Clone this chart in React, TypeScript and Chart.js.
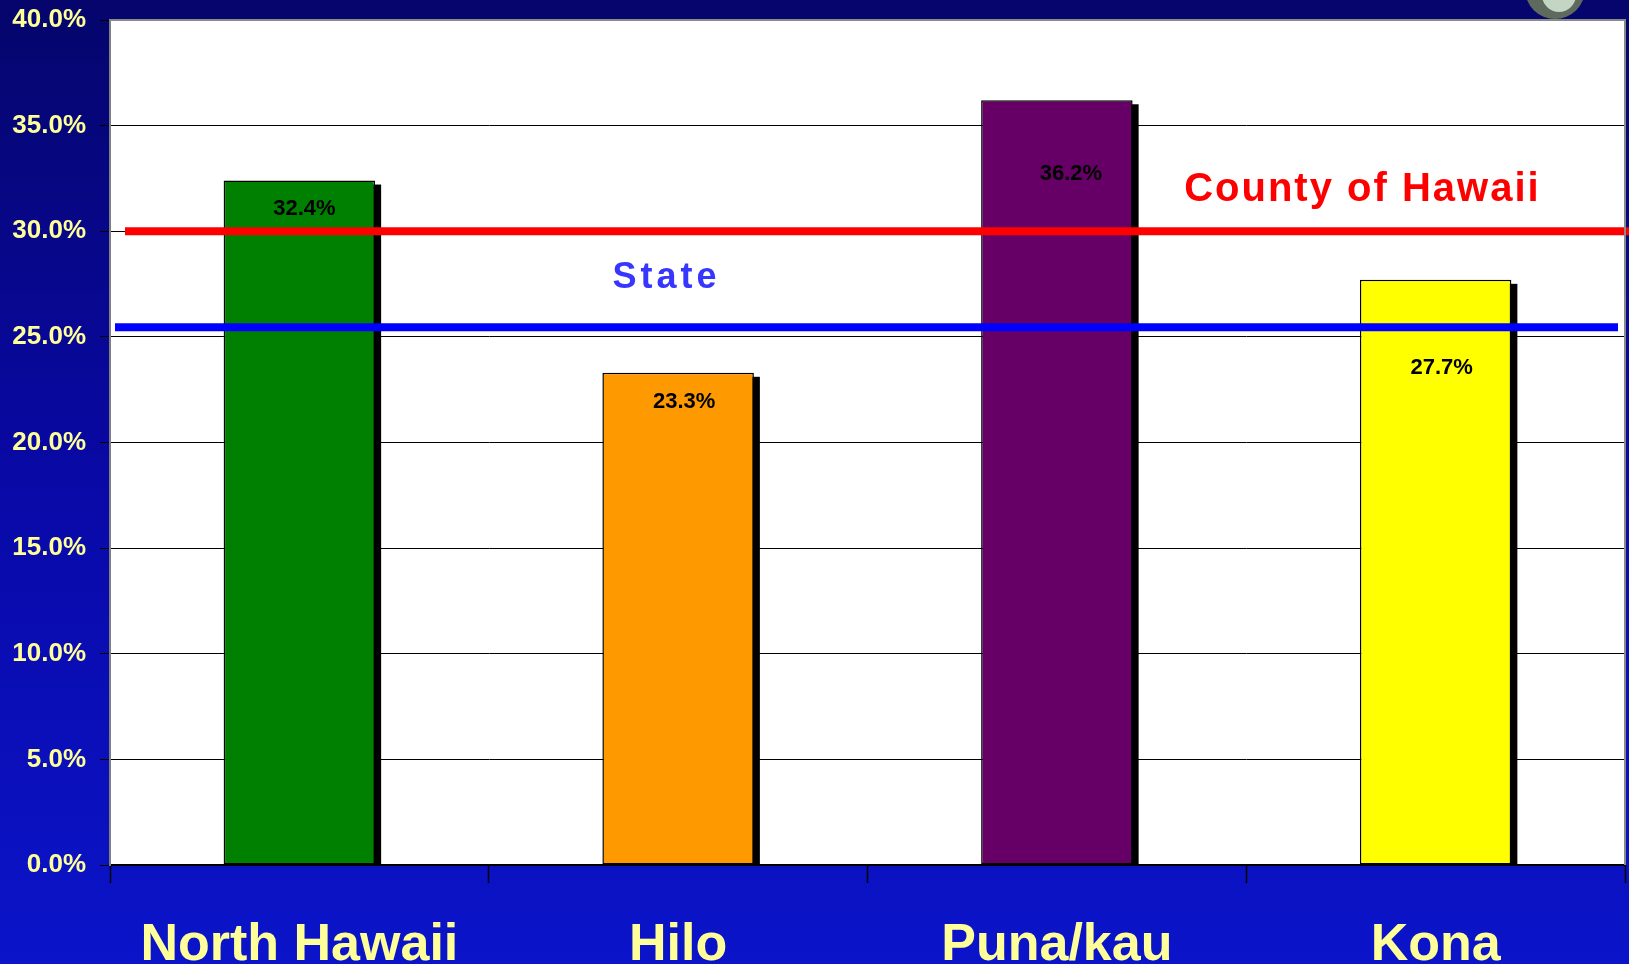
import { useEffect, useRef } from "react";
import { Chart, registerables } from "chart.js";

Chart.register(...registerables);

// ---- data ----
const categories = ["North Hawaii", "Hilo", "Puna/kau", "Kona"];
const values = [32.4, 23.3, 36.2, 27.7];
const valueLabels = ["32.4%", "23.3%", "36.2%", "27.7%"];
const countyValue = 30.0;
const stateValue = 25.45;
const countyLabel = "County of Hawaii";
const stateLabel = "State";
const yMin = 0;
const yMax = 40;
const yStep = 5;

// ---- styles ----
const barColors = ["#008000", "#ff9900", "#660066", "#ffff00"];
const labelDx = [5, 6, 14, 6];
const labelDy = [26, 27, 72, 86];
const FONT = "'Liberation Sans', Arial, Helvetica, sans-serif";
const YELLOW = "#ffff99";

const decorPlugin = {
  id: "decor",
  beforeDraw(chart: any) {
    const { ctx, width, height, chartArea } = chart;
    ctx.save();
    const g = ctx.createLinearGradient(0, 0, 0, height);
    g.addColorStop(0, "#05056c");
    g.addColorStop(0.5, "#0909a6");
    g.addColorStop(1, "#0b14c9");
    ctx.fillStyle = g;
    ctx.fillRect(0, 0, width, height);
    // button decoration top-right
    ctx.fillStyle = "#5e6a5e";
    ctx.beginPath();
    ctx.arc(1555, -11, 30, 0, Math.PI * 2);
    ctx.fill();
    ctx.fillStyle = "#c3d6c3";
    ctx.beginPath();
    ctx.arc(1559, -5, 17, 0, Math.PI * 2);
    ctx.fill();
    // plot area
    ctx.fillStyle = "#ffffff";
    ctx.fillRect(chartArea.left, chartArea.top, chartArea.right - chartArea.left, chartArea.bottom - chartArea.top);
    ctx.restore();
  },
  beforeDatasetsDraw(chart: any) {
    const { ctx } = chart;
    const meta = chart.getDatasetMeta(0);
    ctx.save();
    ctx.fillStyle = "#000000";
    meta.data.forEach((el: any) => {
      const p = el.getProps(["x", "y", "base", "width"], true);
      ctx.fillRect(p.x - p.width / 2 + 6, p.y + 4, p.width, p.base - p.y - 4);
    });
    ctx.restore();
  },
  afterDatasetsDraw(chart: any) {
    const { ctx, chartArea, width } = chart;
    const y = chart.scales.y;
    const meta = chart.getDatasetMeta(0);
    ctx.save();
    // value labels
    ctx.fillStyle = "#000000";
    ctx.font = `bold 22px ${FONT}`;
    ctx.textAlign = "center";
    ctx.textBaseline = "alphabetic";
    meta.data.forEach((el: any, i: number) => {
      const p = el.getProps(["x", "y"], true);
      ctx.fillText(valueLabels[i], p.x + labelDx[i], p.y + labelDy[i] + 8);
    });
    // reference lines
    ctx.lineWidth = 8;
    ctx.strokeStyle = "#ff0000";
    const yc = y.getPixelForValue(countyValue);
    ctx.beginPath();
    ctx.moveTo(chartArea.left + 15, yc);
    ctx.lineTo(width, yc);
    ctx.stroke();
    ctx.strokeStyle = "#0000ff";
    const ys = y.getPixelForValue(stateValue);
    ctx.beginPath();
    ctx.moveTo(chartArea.left + 5, ys);
    ctx.lineTo(chartArea.right - 7, ys);
    ctx.stroke();
    // line labels
    const w = chartArea.right - chartArea.left;
    ctx.textAlign = "center";
    ctx.fillStyle = "#ff0000";
    ctx.font = `bold 40px ${FONT}`;
    (ctx as any).letterSpacing = "2px";
    ctx.fillText(countyLabel, chartArea.left + 0.826 * w + 1, yc - 30);
    ctx.fillStyle = "#3636ff";
    ctx.font = `bold 36px ${FONT}`;
    (ctx as any).letterSpacing = "4px";
    ctx.fillText(stateLabel, chartArea.left + 0.366 * w + 2, ys - 39);
    (ctx as any).letterSpacing = "0px";
    // plot border top/right
    ctx.lineWidth = 2;
    ctx.strokeStyle = "#8a8a8a";
    ctx.beginPath();
    ctx.moveTo(chartArea.left, chartArea.top);
    ctx.lineTo(chartArea.right, chartArea.top);
    ctx.lineTo(chartArea.right, chartArea.bottom);
    ctx.stroke();
    ctx.restore();
  },
};

export default function App() {
  const ref = useRef<HTMLCanvasElement>(null);
  useEffect(() => {
    document.body.style.margin = "0";
    document.body.style.overflow = "hidden";
    const canvas = ref.current!;
    const chart = new Chart(canvas, {
      type: "bar",
      data: {
        labels: categories,
        datasets: [
          {
            data: values,
            backgroundColor: barColors,
            borderColor: "#000000",
            borderWidth: 1.5,
            borderSkipped: false,
            barPercentage: 0.4,
            categoryPercentage: 1.0,
          },
        ],
      },
      options: {
        animation: false,
        responsive: false,
        devicePixelRatio: 1,
        layout: { padding: { top: 20, right: 4, left: 0, bottom: 0 } },
        plugins: { legend: { display: false }, tooltip: { enabled: false } },
        scales: {
          x: {
            afterFit: (s: any) => {
              s.height = 99;
              s.paddingLeft = 0;
              s.paddingRight = 0;
            },
            grid: {
              offset: true,
              drawOnChartArea: false,
              drawTicks: true,
              tickLength: 18,
              tickColor: "#000000",
              tickWidth: 1.5,
            },
            border: { color: "#000000", width: 2 },
            ticks: {
              color: YELLOW,
              padding: 31,
              font: { family: FONT, size: 52, weight: "bold" },
              maxRotation: 0,
            },
          },
          y: {
            min: yMin,
            max: yMax,
            afterFit: (s: any) => {
              s.width = 110;
              s.paddingTop = 0;
              s.paddingBottom = 0;
            },
            grid: {
              color: "#000000",
              lineWidth: 1,
              tickLength: 10,
              tickColor: "#000000",
            },
            border: { color: "#808080", width: 2 },
            ticks: {
              stepSize: yStep,
              color: YELLOW,
              padding: 14,
              font: { family: FONT, size: 26, weight: "bold" },
              callback: (v: any) => Number(v).toFixed(1) + "%",
            },
          },
        },
      },
      plugins: [decorPlugin],
    });
    return () => chart.destroy();
  }, []);
  return <canvas ref={ref} width={1629} height={964} style={{ display: "block" }} />;
}
